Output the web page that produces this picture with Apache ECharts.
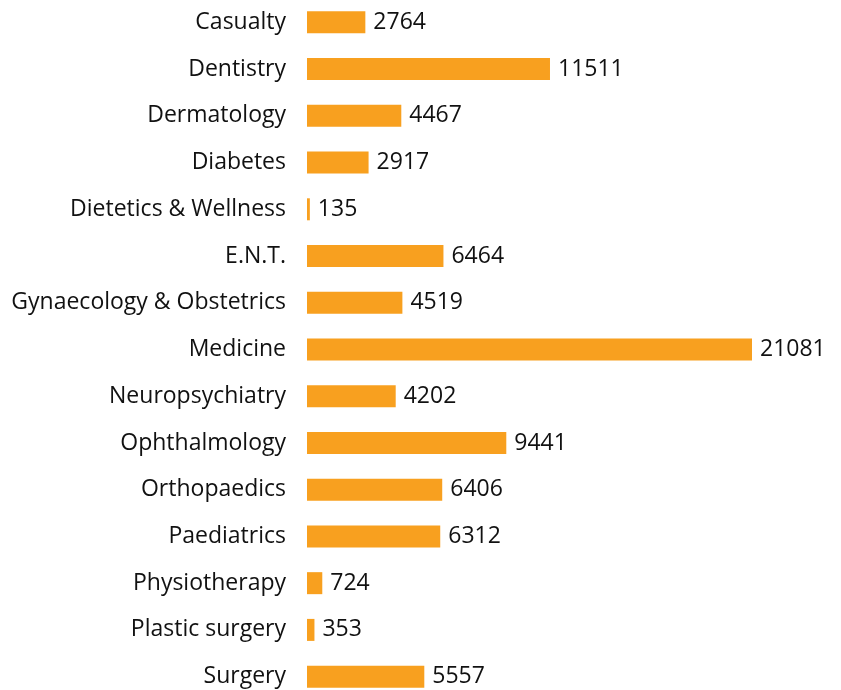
<!DOCTYPE html>
<html>
<head>
<meta charset="utf-8">
<script src="https://cdn.jsdelivr.net/npm/echarts@6/dist/echarts.min.js"></script>
<style>
    html, body { margin: 0; padding: 0; background: #fff; }
    #main { width: 841px; height: 690px; }
</style>
</head>
<body>
<div id="main"></div>
<script>
var departments = ['Casualty', 'Dentistry', 'Dermatology', 'Diabetes', 'Dietetics & Wellness', 'E.N.T.',
    'Gynaecology & Obstetrics', 'Medicine', 'Neuropsychiatry', 'Ophthalmology', 'Orthopaedics',
    'Paediatrics', 'Physiotherapy', 'Plastic surgery', 'Surgery'];
var patients = [2764, 11511, 4467, 2917, 135, 6464, 4519, 21081, 4202, 9441, 6406, 6312, 724, 353, 5557];

var myChart = echarts.init(document.getElementById('main'));
var option = {
    animation: false,
    grid: {
        top: -1,
        left: 307,
        right: 89,
        height: 701,
        outerBoundsMode: 'none'
    },
    xAxis: {
        type: 'value',
        show: false,
        min: 0,
        max: 'dataMax',
        splitLine: {show: false}
    },
    yAxis: {
        type: 'category',
        inverse: true,
        data: departments,
        axisLine: {show: false},
        axisTick: {show: false},
        axisLabel: {
            margin: 21,
            fontSize: 23,
            fontFamily: 'Open Sans',
            color: '#111'
        }
    },
    series: [
        {
            type: 'bar',
            data: patients,
            barWidth: 22,
            itemStyle: {
                color: '#F8A01F'
            },
            label: {
                show: true,
                position: 'right',
                distance: 8,
                fontSize: 23,
                fontFamily: 'Open Sans',
                color: '#111'
            }
        }
    ]
};
myChart.setOption(option);
</script>
</body>
</html>
